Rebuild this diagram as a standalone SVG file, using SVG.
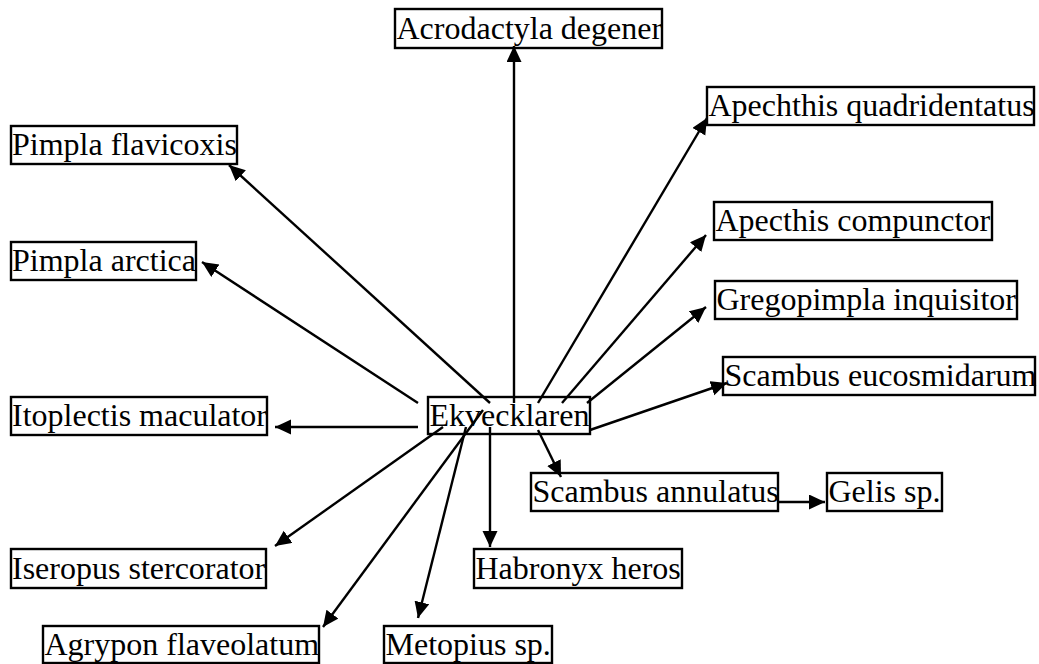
<svg xmlns="http://www.w3.org/2000/svg" width="1039" height="664" viewBox="0 0 1039 664">
<style>
.box{fill:#fff;stroke:#000;stroke-width:2.4}
.lbl{font-family:"Liberation Serif","Times New Roman",Tinos,serif;font-size:32px;fill:#000}
.edge{stroke:#000;stroke-width:2.4;fill:none;marker-end:url(#ah)}
</style>
<defs>
<marker id="ah" markerUnits="userSpaceOnUse" markerWidth="18" markerHeight="16" refX="16" refY="7.5" orient="auto">
<path d="M0,0 L16,7.5 L0,15 z" fill="#000"/>
</marker>
</defs>
<rect width="1039" height="664" fill="#fff"/>
<g id="nodes">
<g id="n-acrodactyla"><rect class="box" x="395" y="9" width="267" height="39"/><text class="lbl" x="396.5" y="39">Acrodactyla degener</text></g>
<g id="n-apechthis-quad"><rect class="box" x="707" y="87" width="327" height="38"/><text class="lbl" x="708.5" y="116">Apechthis quadridentatus</text></g>
<g id="n-pimpla-flav"><rect class="box" x="11" y="126" width="226" height="38"/><text class="lbl" x="12" y="155">Pimpla flavicoxis</text></g>
<g id="n-pimpla-arct"><rect class="box" x="11" y="242" width="185" height="38"/><text class="lbl" x="12" y="271">Pimpla arctica</text></g>
<g id="n-apecthis-comp"><rect class="box" x="714" y="202" width="278" height="38"/><text class="lbl" x="715.5" y="231">Apecthis compunctor</text></g>
<g id="n-gregopimpla"><rect class="box" x="715" y="281" width="302" height="38"/><text class="lbl" x="716.5" y="310">Gregopimpla inquisitor</text></g>
<g id="n-scambus-euc"><rect class="box" x="723" y="357" width="312" height="38"/><text class="lbl" x="724.5" y="386">Scambus eucosmidarum</text></g>
<g id="n-itoplectis"><rect class="box" x="11" y="397" width="256" height="38"/><text class="lbl" x="12" y="426">Itoplectis maculator</text></g>
<g id="n-ekvecklaren"><rect class="box" x="428" y="397" width="162" height="37"/><text class="lbl" x="429.5" y="426">Ekvecklaren</text></g>
<g id="n-scambus-ann"><rect class="box" x="531" y="473" width="247" height="38"/><text class="lbl" x="532.5" y="502">Scambus annulatus</text></g>
<g id="n-gelis"><rect class="box" x="827" y="473" width="115" height="38"/><text class="lbl" x="828.5" y="502">Gelis sp.</text></g>
<g id="n-iseropus"><rect class="box" x="11" y="549" width="255" height="39"/><text class="lbl" x="12" y="579">Iseropus stercorator</text></g>
<g id="n-habronyx"><rect class="box" x="474" y="549" width="208" height="39"/><text class="lbl" x="475.5" y="579">Habronyx heros</text></g>
<g id="n-agrypon"><rect class="box" x="43" y="626" width="276" height="37"/><text class="lbl" x="44.5" y="655">Agrypon flaveolatum</text></g>
<g id="n-metopius"><rect class="box" x="384" y="626" width="168" height="37"/><text class="lbl" x="385.5" y="655">Metopius sp.</text></g>
</g>
<g id="connectors">
<line class="edge" x1="514" y1="403" x2="514" y2="46"/>
<line class="edge" x1="538" y1="403" x2="707" y2="118"/>
<line class="edge" x1="562" y1="403" x2="706" y2="235"/>
<line class="edge" x1="587" y1="403" x2="706" y2="307"/>
<line class="edge" x1="590" y1="430" x2="727" y2="383"/>
<line class="edge" x1="490" y1="403" x2="229" y2="165"/>
<line class="edge" x1="418" y1="403" x2="202" y2="262"/>
<line class="edge" x1="418" y1="427" x2="275" y2="427"/>
<line class="edge" x1="443" y1="427" x2="275" y2="546"/>
<line class="edge" x1="483" y1="410" x2="323" y2="627"/>
<line class="edge" x1="466" y1="427" x2="418" y2="618"/>
<line class="edge" x1="490" y1="427" x2="490" y2="547"/>
<line class="edge" x1="538" y1="430" x2="561" y2="477"/>
<line class="edge" x1="778" y1="502" x2="825" y2="502"/>
</g>
</svg>
